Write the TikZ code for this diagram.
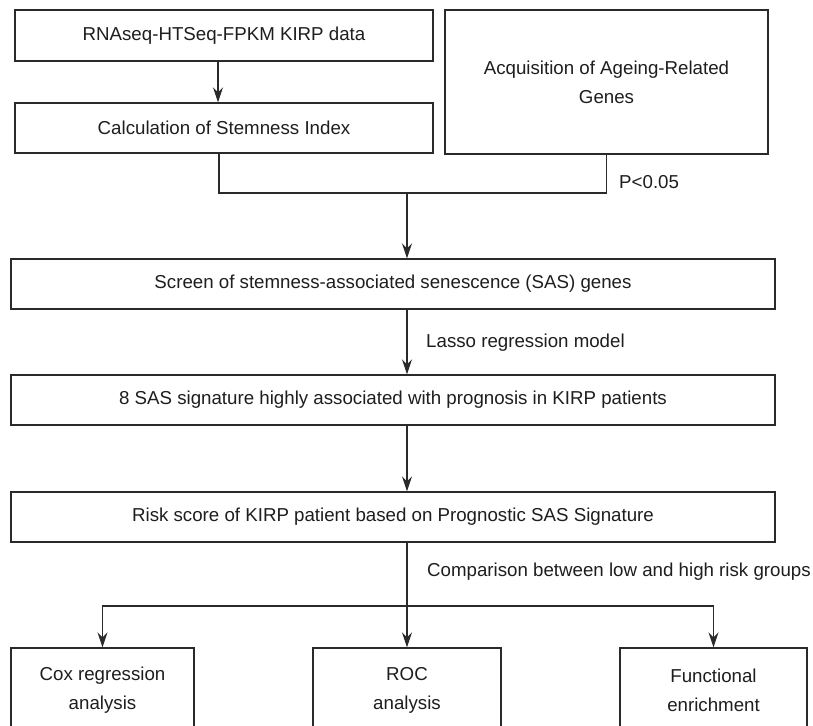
\documentclass[tikz,border=0pt]{standalone}
\usepackage{fontspec}
\setmainfont{Liberation Sans}
\usetikzlibrary{arrows.meta,calc}
\definecolor{ink}{HTML}{2A2A2A}
\definecolor{txt}{HTML}{1E1E1E}
\begin{document}
\begin{tikzpicture}[x=1pt,y=-1pt,
  every node/.style={font=\fontsize{18.7}{29}\selectfont, text=txt},
  box/.style={draw=ink, line width=1.4pt, rectangle, inner sep=0pt, align=center},
  conn/.style={draw=ink, line width=1.4pt},
  arr/.style={conn, -{Stealth[length=15pt,width=10pt,inset=5pt]}},
  lbl/.style={anchor=west, inner sep=0pt}]
\clip (0,0) rectangle (813,725);
\fill[white] (0,0) rectangle (813,725);
% top boxes
\node[box, minimum width=418pt, minimum height=51pt] (data) at (224,35.5) {RNAseq-HTSeq-FPKM KIRP data};
\node[box, minimum width=418pt, minimum height=50pt] (calc) at (224,128) {Calculation of Stemness Index};
\node[box, minimum width=323pt, minimum height=144pt] (ageing) at (606.5,82) {Acquisition of Ageing-Related\\Genes};
% main column
\node[box, minimum width=764pt, minimum height=50pt] (screen) at (393,284) {Screen of stemness-associated senescence (SAS) genes};
\node[box, minimum width=764pt, minimum height=50pt] (sas) at (393,400) {8 SAS signature highly associated with prognosis in KIRP patients};
\node[box, minimum width=764pt, minimum height=50pt] (risk) at (393,517) {Risk score of KIRP patient based on Prognostic SAS Signature};
% bottom boxes (cut off at the bottom edge)
\node[box, minimum width=183pt, minimum height=84pt] (cox) at (102.5,690) {Cox regression\\analysis};
\node[box, minimum width=188pt, minimum height=84pt] (roc) at (407,690) {ROC\\analysis};
\node[box, minimum width=187pt, minimum height=84pt] (func) at (713.5,690) {Functional\\enrichment};
% junctions
\coordinate (j) at (407,193);
\coordinate (b) at (407,606);
% connectors
\draw[arr] ([xshift=-6pt]data.south) -- ([xshift=-6pt]calc.north);
\draw[conn] ([xshift=-5pt]calc.south) |- (ageing.south |- j) -- (ageing.south);
\node[lbl] (p) at (619,182) {P<0.05};
\draw[arr] (j) -- (j |- screen.north);
\draw[arr] (screen.south -| j) -- (sas.north -| j);
\node[lbl] (lasso) at (426,343) {Lasso regression model};
\draw[arr] (sas.south -| j) -- (risk.north -| j);
\draw[arr] (risk.south -| j) -- (roc.north);
\node[lbl] (cmp) at (427,572) {Comparison between low and high risk groups};
\draw[arr] (b) -| (cox.north);
\draw[arr] (b) -| (func.north);
\end{tikzpicture}
\end{document}
